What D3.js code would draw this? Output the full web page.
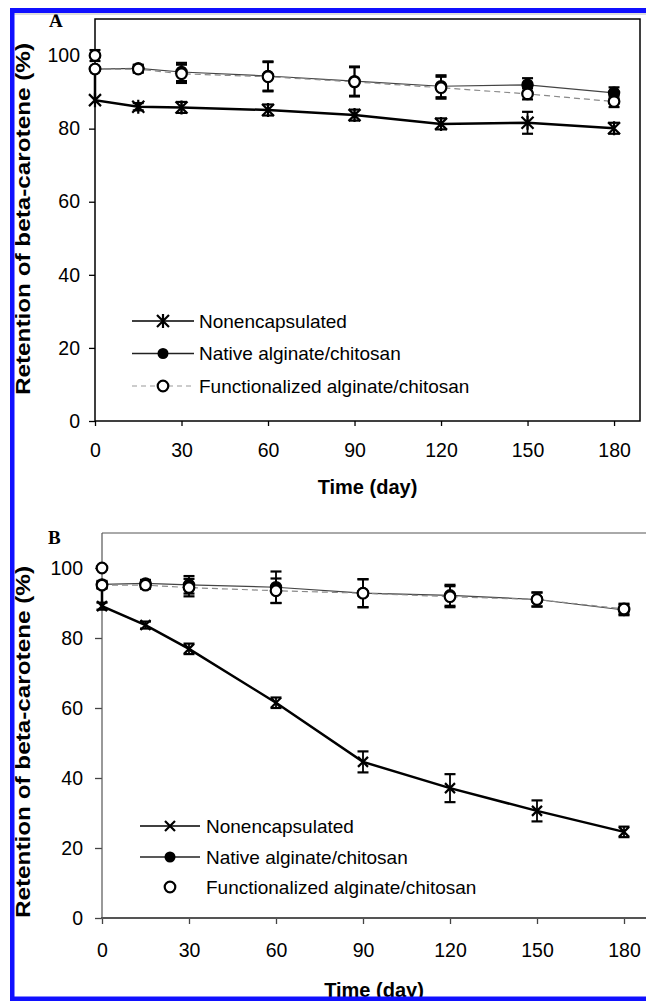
<!DOCTYPE html>
<html>
<head>
<meta charset="utf-8">
<script src="https://cdn.jsdelivr.net/npm/d3@7"></script>
<style>
  html, body { margin: 0; padding: 0; background: #fff; }
  svg { display: block; }
  text { fill: #000; }
</style>
</head>
<body>
<svg id="chart" width="646" height="1001"></svg>
<script>
// ---------------- DATA ----------------
const days = [0, 15, 30, 60, 90, 120, 150, 180];
const xTicks = [0, 30, 60, 90, 120, 150, 180];
const yTicks = [0, 20, 40, 60, 80, 100];
const seriesNames = ["Nonencapsulated", "Native alginate/chitosan", "Functionalized alginate/chitosan"];
const panelLabels = ["A", "B"];
const xTitle = "Time (day)";
const yTitle = "Retention of beta-carotene (%)";

// Panel A
const nonencA    = [87.8, 86.0, 85.8, 85.1, 83.7, 81.3, 81.6, 80.1];
const nonencErrA = [0, 1.0, 1.5, 1.5, 1.5, 1.5, 3.0, 1.5];
const nativeA    = [96.3, 96.5, 95.5, 94.4, 93.0, 91.6, 92.0, 89.8];
const nativeErrA = [0, 1.0, 2.5, 4.0, 4.0, 3.0, 1.8, 1.5];
const funcA      = [96.3, 96.3, 95.0, 94.2, 92.8, 91.2, 89.5, 87.4];
const funcErrA   = [0, 1.0, 2.5, 4.0, 4.0, 3.0, 1.5, 1.5];
const initialA    = 100;   // initial value at day 0
const initialErrA = 1.5;
const linkTopA    = 96.3;  // top of the vertical link at day 0

// Panel B
const nonencB    = [89.1, 83.7, 76.9, 61.5, 44.6, 37.1, 30.6, 24.6];
const nonencErrB = [1.0, 1.0, 1.5, 1.5, 3.0, 4.0, 3.0, 1.5];
const nativeB    = [95.3, 95.6, 95.2, 94.5, 92.8, 92.2, 91.0, 88.0];
const nativeErrB = [1.0, 1.0, 2.5, 4.5, 4.0, 3.0, 2.0, 1.5];
const funcB      = [95.1, 95.1, 94.4, 93.5, 92.8, 91.8, 91.0, 88.3];
const funcErrB   = [1.0, 1.0, 2.5, 3.5, 4.0, 3.0, 2.0, 1.5];
const initialB    = 100;
const initialErrB = 0.5;
const linkTopB    = 95.1;

// ---------------- DRAW ----------------
const svg = d3.select("#chart");
const FONT = "'Liberation Sans', Arial, sans-serif";
const SERIF = "'Liberation Serif', 'Times New Roman', serif";

const starPath = "M-6,-6L6,6M-6,6L6,-6M0,-7L0,7";
const crossPath = "M-5,-5L5,5M-5,5L5,-5";

function drawPanel(cfg) {
  const g = svg.append("g");
  const x = cfg.x, y = cfg.y;

  // axes
  const yAxis = d3.axisLeft(y).tickValues(yTicks).tickSize(cfg.yTick).tickPadding(cfg.yPad).tickSizeOuter(0);
  const xAxis = d3.axisBottom(x).tickValues(xTicks).tickSize(cfg.xTick).tickPadding(cfg.xPad).tickSizeOuter(0);
  const gy = g.append("g").attr("transform", `translate(${x(0)},0)`).call(yAxis);
  const gx = g.append("g").attr("transform", `translate(0,${y(0)})`).call(xAxis);
  [gx, gy].forEach(a => {
    a.select(".domain").remove();
    a.selectAll(".tick line").attr("stroke", cfg.tickColor).attr("stroke-width", 1.3);
    a.selectAll(".tick text").style("font-size", "19.5px").style("font-family", FONT).attr("fill", "#000");
  });

  // frame
  cfg.frame(g);

  // nonencapsulated line (with link at day 0)
  const lineGen = d3.line().x(d => x(d[0])).y(d => y(d[1]));
  const nonPts = [[0, cfg.linkTop]].concat(days.map((d, i) => [d, cfg.nonenc[i]]));
  g.append("path").attr("d", lineGen(nonPts)).attr("fill", "none")
    .attr("stroke", "#000").attr("stroke-width", 2.5);

  const nativePts = days.map((d, i) => [d, cfg.native[i]]);
  const funcPts = days.map((d, i) => [d, cfg.func[i]]);
  g.append("path").attr("d", lineGen(nativePts)).attr("fill", "none")
    .attr("stroke", "#444").attr("stroke-width", 1.2);
  g.append("path").attr("d", lineGen(funcPts)).attr("fill", "none")
    .attr("stroke", "#8a8a8a").attr("stroke-width", 1.2).attr("stroke-dasharray", "6,4");

  // error bars
  function errBars(vals, errs) {
    days.forEach((d, i) => {
      const e = errs[i];
      if (!e) return;
      const cx = x(d), y1 = y(vals[i] - e), y2 = y(vals[i] + e);
      g.append("line").attr("x1", cx).attr("x2", cx).attr("y1", y1).attr("y2", y2)
        .attr("stroke", "#000").attr("stroke-width", 1.8);
      [y1, y2].forEach(yy => g.append("line").attr("x1", cx - 5.5).attr("x2", cx + 5.5)
        .attr("y1", yy).attr("y2", yy).attr("stroke", "#000").attr("stroke-width", 2.2));
    });
  }
  errBars(cfg.nonenc, cfg.nonencErr);
  errBars(cfg.native, cfg.nativeErr);
  errBars(cfg.func, cfg.funcErr);
  {
    const cx = x(0), y1 = y(cfg.initial - cfg.initialErr), y2 = y(cfg.initial + cfg.initialErr);
    [y1, y2].forEach(yy => g.append("line").attr("x1", cx - 5.5).attr("x2", cx + 5.5)
      .attr("y1", yy).attr("y2", yy).attr("stroke", "#000").attr("stroke-width", 2.2));
  }

  // markers
  days.forEach((d, i) => {
    g.append("path").attr("d", cfg.markerPath)
      .attr("transform", `translate(${x(d)},${y(cfg.nonenc[i])})`)
      .attr("stroke", "#000").attr("stroke-width", 2.2).attr("fill", "none");
  });
  g.selectAll(null).data(nativePts).enter().append("circle")
    .attr("cx", d => x(d[0])).attr("cy", d => y(d[1])).attr("r", 5.5)
    .attr("fill", "#000").attr("stroke", "#000").attr("stroke-width", 1.5);
  g.selectAll(null).data(funcPts).enter().append("circle")
    .attr("cx", d => x(d[0])).attr("cy", d => y(d[1])).attr("r", 5.3)
    .attr("fill", "#fff").attr("stroke", "#000").attr("stroke-width", 2.2);
  g.append("circle").attr("cx", x(0)).attr("cy", y(cfg.initial)).attr("r", 5.3)
    .attr("fill", "#fff").attr("stroke", "#000").attr("stroke-width", 2.2);

  // panel letter
  g.append("text").attr("x", cfg.letterX).attr("y", cfg.letterY)
    .style("font-family", SERIF).style("font-weight", "bold")
    .style("font-size", "19px").text(cfg.letter);

  // axis titles
  g.append("text").attr("x", cfg.xTitleX).attr("y", cfg.xTitleY)
    .attr("text-anchor", "middle").style("font-weight", "bold").style("font-size", "20px")
    .style("font-family", FONT).text(xTitle);
  g.append("text").attr("transform", `translate(30,${cfg.yTitleY}) rotate(-90)`)
    .attr("text-anchor", "middle").style("font-weight", "bold").style("font-size", "21px")
    .style("font-family", FONT).attr("textLength", 352).attr("lengthAdjust", "spacingAndGlyphs")
    .text(yTitle);

  // legend
  const L = cfg.legend;
  L.rows.forEach((ry, i) => {
    if (i === 0) {
      g.append("line").attr("x1", L.x1).attr("x2", L.x2).attr("y1", ry).attr("y2", ry)
        .attr("stroke", "#000").attr("stroke-width", 1.7);
      g.append("path").attr("d", cfg.markerPath).attr("transform", `translate(${L.mx},${ry})`)
        .attr("stroke", "#000").attr("stroke-width", 2.2).attr("fill", "none");
    } else if (i === 1) {
      g.append("line").attr("x1", L.x1).attr("x2", L.x2).attr("y1", ry).attr("y2", ry)
        .attr("stroke", "#222").attr("stroke-width", 1.3);
      g.append("circle").attr("cx", L.mx).attr("cy", ry).attr("r", 5.5).attr("fill", "#000");
    } else {
      if (L.dashedLegend) {
        g.append("line").attr("x1", L.x1).attr("x2", L.x2).attr("y1", ry).attr("y2", ry)
          .attr("stroke", "#999").attr("stroke-width", 1.2).attr("stroke-dasharray", "5,4");
      }
      g.append("circle").attr("cx", L.mx).attr("cy", ry).attr("r", 5.3)
        .attr("fill", "#fff").attr("stroke", "#000").attr("stroke-width", 2.2);
    }
    g.append("text").attr("x", L.tx).attr("y", ry).attr("dy", "0.35em")
      .style("font-size", "19px").style("font-family", FONT).text(seriesNames[i]);
  });
}

// Panel A
const xA = d3.scaleLinear().domain([0, 189]).range([95, 640]);
const yA = d3.scaleLinear().domain([0, 110]).range([421, 19]);
drawPanel({
  x: xA, y: yA, yTick: 6, yPad: 9, xTick: 5, xPad: 17, tickColor: "#000",
  nonenc: nonencA, nonencErr: nonencErrA, native: nativeA, nativeErr: nativeErrA,
  func: funcA, funcErr: funcErrA, initial: initialA, initialErr: initialErrA, linkTop: linkTopA,
  markerPath: starPath, letter: panelLabels[0], letterX: 49, letterY: 27,
  xTitleX: (95 + 640) / 2, xTitleY: 494, yTitleY: 219,
  legend: { rows: [321, 353.5, 386], x1: 132, x2: 194, mx: 163, tx: 199, dashedLegend: true },
  frame: (g) => {
    g.append("rect").attr("x", xA(0)).attr("y", yA(110))
      .attr("width", xA(189) - xA(0)).attr("height", yA(0) - yA(110))
      .attr("fill", "none").attr("stroke", "#000").attr("stroke-width", 1.5);
  }
});

// Panel B
const xB = d3.scaleLinear().domain([0, 180]).range([102, 624]);
const yB = d3.scaleLinear().domain([0, 110]).range([918, 533]);
drawPanel({
  x: xB, y: yB, yTick: 7, yPad: 12, xTick: 6, xPad: 19, tickColor: "#444",
  nonenc: nonencB, nonencErr: nonencErrB, native: nativeB, nativeErr: nativeErrB,
  func: funcB, funcErr: funcErrB, initial: initialB, initialErr: initialErrB, linkTop: linkTopB,
  markerPath: crossPath, letter: panelLabels[1], letterX: 48, letterY: 544,
  xTitleX: 374, xTitleY: 997, yTitleY: 742,
  legend: { rows: [826, 857, 887], x1: 140, x2: 200, mx: 170, tx: 206, dashedLegend: false },
  frame: (g) => {
    g.append("line").attr("x1", xB(0)).attr("x2", 646).attr("y1", yB(110)).attr("y2", yB(110))
      .attr("stroke", "#555").attr("stroke-width", 1);
    g.append("line").attr("x1", xB(0)).attr("x2", xB(0)).attr("y1", yB(110)).attr("y2", yB(0))
      .attr("stroke", "#555").attr("stroke-width", 1.2);
    g.append("line").attr("x1", xB(0) - 1).attr("x2", 646).attr("y1", yB(0)).attr("y2", yB(0))
      .attr("stroke", "#555").attr("stroke-width", 1.8);
  }
});

// blue border
svg.append("line").attr("x1", 14).attr("x2", 646).attr("y1", 14).attr("y2", 14)
  .attr("stroke", "#bbb").attr("stroke-width", 1);
svg.append("rect").attr("x", 10).attr("y", 8).attr("width", 636).attr("height", 5).attr("fill", "#1010ff");
svg.append("rect").attr("x", 10).attr("y", 8).attr("width", 4.5).attr("height", 993).attr("fill", "#1010ff");
svg.append("rect").attr("x", 10).attr("y", 996.5).attr("width", 636).attr("height", 4.5).attr("fill", "#1010ff");
</script>
</body>
</html>
